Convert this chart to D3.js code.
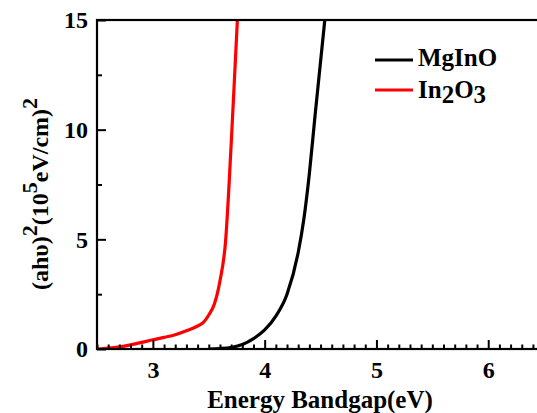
<!DOCTYPE html>
<html>
<head>
<meta charset="utf-8">
<script src="https://cdn.jsdelivr.net/npm/d3@7"></script>
<style>
  html, body { margin: 0; padding: 0; background: #fff; }
  svg { display: block; }
</style>
</head>
<body>
<svg id="chart" width="537" height="413"></svg>
<script>
// Photon energy (eV) and (αhν)² values, 10^5 eV/cm squared
const mgInOEnergy = [3.5, 3.6, 3.7, 3.8, 3.9, 4.0, 4.1, 4.2, 4.3, 4.35, 4.4, 4.45, 4.5, 4.55];
const mgInOValue  = [0, 0.02, 0.07, 0.2, 0.47, 0.87, 1.5, 2.5, 4.4, 5.9, 8.0, 10.6, 13.1, 15.6];

const in2O3Energy = [2.5, 2.6, 2.7, 2.8, 2.9, 3.0, 3.1, 3.2, 3.3, 3.4, 3.45, 3.5, 3.55, 3.6, 3.65, 3.7, 3.75, 3.77];
const in2O3Value  = [0, 0.04, 0.1, 0.19, 0.3, 0.42, 0.53, 0.65, 0.83, 1.05, 1.2, 1.55, 2.05, 3.1, 4.9, 9.3, 14.4, 16.4];

const xMajorTicks = [3, 4, 5, 6];
const yMajorTicks = [0, 5, 10, 15];
const yMinorTicks = [2.5, 7.5, 12.5];

const seriesNames  = ["MgInO", "In2O3"];
const seriesColors = ["#000000", "#ff0000"];

const FONT = '"Liberation Serif"';

const svg = d3.select("#chart");
const plotLeft = 97, plotTop = 20, plotBottom = 349, plotRight = 600;

const x = d3.scaleLinear().domain([2.5, 7]).range([plotLeft, plotRight]);
const y = d3.scaleLinear().domain([0, 15]).range([plotBottom, plotTop]);

svg.append("defs").append("clipPath").attr("id", "plotClip")
  .append("rect").attr("x", plotLeft).attr("y", plotTop)
  .attr("width", plotRight - plotLeft).attr("height", plotBottom - plotTop);

// curves
const line = d3.line().x(d => x(d[0])).y(d => y(d[1])).curve(d3.curveMonotoneX);
const series = [
  d3.zip(mgInOEnergy, mgInOValue),
  d3.zip(in2O3Energy, in2O3Value)
];
series.forEach((pts, i) => {
  svg.append("path")
    .attr("clip-path", "url(#plotClip)")
    .attr("d", line(pts))
    .attr("fill", "none")
    .attr("stroke", seriesColors[i])
    .attr("stroke-width", 3.2)
    .attr("stroke-linejoin", "round");
});

// minor ticks
const xMinor = d3.range(25, 70).map(v => v / 10).filter(v => !xMajorTicks.includes(v));
svg.append("g").attr("transform", `translate(0,${plotBottom})`)
  .call(d3.axisBottom(x).tickValues(xMinor).tickSize(-4.5).tickFormat(""))
  .call(g => g.select(".domain").remove())
  .selectAll("line").attr("stroke", "#000").attr("stroke-width", 2);
svg.append("g").attr("transform", `translate(${plotLeft},0)`)
  .call(d3.axisLeft(y).tickValues(yMinorTicks).tickSize(-5).tickFormat(""))
  .call(g => g.select(".domain").remove())
  .selectAll("line").attr("stroke", "#000").attr("stroke-width", 2);

function label(sel) {
  return sel.style("font-family", FONT).style("font-weight", "bold").attr("fill", "#000");
}

// major ticks and labels
const xAxis = svg.append("g").attr("transform", `translate(0,${plotBottom})`)
  .call(d3.axisBottom(x).tickValues(xMajorTicks).tickSize(-9).tickPadding(12).tickFormat(d3.format("d")));
const yAxis = svg.append("g").attr("transform", `translate(${plotLeft},0)`)
  .call(d3.axisLeft(y).tickValues(yMajorTicks).tickSize(-9).tickPadding(9).tickFormat(d3.format("d")));
[xAxis, yAxis].forEach(g => {
  g.attr("font-family", null).attr("font-size", null);
  g.select(".domain").remove();
  g.selectAll("line").attr("stroke", "#000").attr("stroke-width", 2);
  label(g.selectAll("text")).style("font-size", "24px");
});

// frame
svg.append("rect")
  .attr("x", plotLeft).attr("y", plotTop)
  .attr("width", plotRight - plotLeft).attr("height", plotBottom - plotTop)
  .attr("fill", "none").attr("stroke", "#000").attr("stroke-width", 2.2);

// axis titles
label(svg.append("text"))
  .attr("x", 320).attr("y", 408)
  .attr("text-anchor", "middle")
  .style("font-size", "25px")
  .text("Energy Bandgap(eV)");

const yTitle = label(svg.append("text"))
  .attr("transform", "translate(48,194) rotate(-90)")
  .attr("text-anchor", "middle")
  .style("font-size", "24px");
yTitle.append("tspan").text("(ahυ)");
yTitle.append("tspan").attr("dy", -11).style("font-size", "22px").text("2");
yTitle.append("tspan").attr("dy", 11).text("(10");
yTitle.append("tspan").attr("dy", -11).style("font-size", "22px").text("5");
yTitle.append("tspan").attr("dy", 11).text("eV/cm)");
yTitle.append("tspan").attr("dy", -11).style("font-size", "22px").text("2");

// legend
const legend = svg.append("g");
const legendLineY = [60, 90];
const legendTextY = [66, 98];
seriesNames.forEach((name, i) => {
  legend.append("line")
    .attr("x1", 375).attr("x2", 413).attr("y1", legendLineY[i]).attr("y2", legendLineY[i])
    .attr("stroke", seriesColors[i]).attr("stroke-width", 3.2);
  const t = label(legend.append("text")).attr("x", 418).attr("y", legendTextY[i]).style("font-size", "25px");
  if (name === "In2O3") {
    t.append("tspan").text("In");
    t.append("tspan").attr("dy", 5).text("2");
    t.append("tspan").attr("dy", -5).text("O");
    t.append("tspan").attr("dy", 5).text("3");
  } else {
    t.text(name);
  }
});
</script>
</body>
</html>
